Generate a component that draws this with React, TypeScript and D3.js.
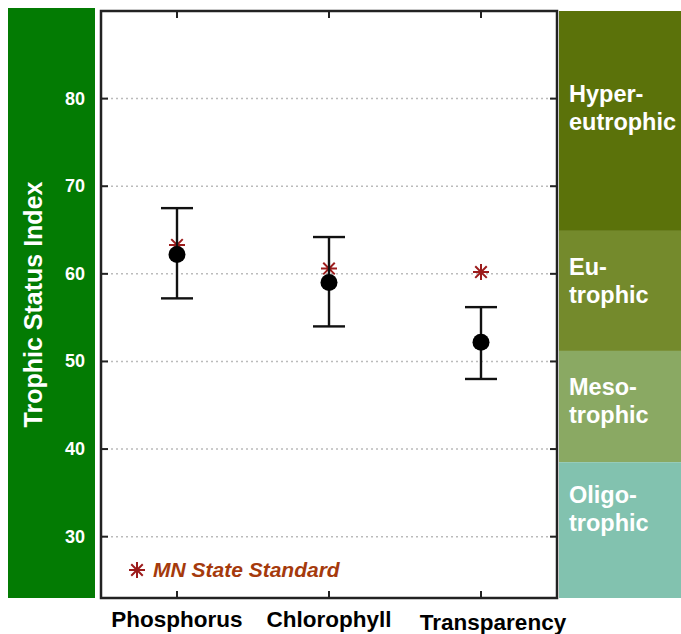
import React from 'react';
import { scaleLinear, scalePoint } from 'd3';

// chart values
const categories = ['Phosphorus', 'Chlorophyll', 'Transparency'];
const means = [62.2, 59.0, 52.2];
const lowers = [57.2, 54.0, 48.0];
const uppers = [67.5, 64.2, 56.2];
const standards = [63.3, 60.6, 60.2];
const yTicks = [30, 40, 50, 60, 70, 80];

// trophic bands on the right side
const bandNames = [['Hyper-', 'eutrophic'], ['Eu-', 'trophic'], ['Meso-', 'trophic'], ['Oligo-', 'trophic']];
const bandTops = [90, 64.9, 51.2, 38.5];
const bandBottoms = [64.9, 51.2, 38.5, 23];
const bandLabelAt = [79.6, 59.9, 46.2, 33.8];
const bandColors = ['#5b720a', '#748a2c', '#8aa963', '#82c2af'];

const W = 681;
const H = 634;
const frame = { left: 101, right: 557, top: 11, bottom: 598 };
const font = '"Liberation Sans", Arial, sans-serif';

// asterisk marker (8 arms)
const asterisk = (cx: number, cy: number, r: number) => {
  const d = r * 0.72;
  return `M${cx - r},${cy}H${cx + r}M${cx},${cy - r}V${cy + r}` +
    `M${cx - d},${cy - d}L${cx + d},${cy + d}M${cx - d},${cy + d}L${cx + d},${cy - d}`;
};

const App = () => {
  const y = scaleLinear().domain([23, 90]).range([frame.bottom, frame.top]);
  const x = scalePoint<string>().domain(categories).range([frame.left, frame.right]).padding(0.5);
  const capW = 16;

  return (
    <svg width={W} height={H} style={{ position: 'absolute', left: 0, top: 0 }}>
      <rect width={W} height={H} fill="#fff" />
      {/* left green panel */}
      <rect x={8} y={8} width={87} height={590} fill="#037b03" />
      {yTicks.map(t => (
        <text key={t} x={85} y={y(t) + 6} textAnchor="end" fill="#fff"
          fontFamily={font} fontWeight="bold" fontSize={18}>{t}</text>
      ))}
      <text transform={`translate(42,${(frame.top + frame.bottom) / 2}) rotate(-90)`}
        textAnchor="middle" fill="#fff" fontFamily={font} fontWeight="bold" fontSize={25}>
        Trophic Status Index
      </text>

      {/* right bands */}
      {bandNames.map((name, i) => (
        <g key={i}>
          <rect x={559} y={y(bandTops[i])} width={W - 559}
            height={y(bandBottoms[i]) - y(bandTops[i])} fill={bandColors[i]} />
          {name.map((line, j) => (
            <text key={j} x={569} y={y(bandLabelAt[i]) + j * 28} fill="#fff"
              fontFamily={font} fontWeight="bold" fontSize={23.5}>{line}</text>
          ))}
        </g>
      ))}

      {/* grid */}
      {yTicks.map(t => (
        <g key={t}>
          <line x1={frame.left} x2={frame.right} y1={y(t)} y2={y(t)}
            stroke="#bbb" strokeWidth={1.5} strokeDasharray="2,3" />
          <line x1={frame.left} x2={frame.left + 7} y1={y(t)} y2={y(t)} stroke="#222" strokeWidth={2} />
          <line x1={frame.right - 7} x2={frame.right} y1={y(t)} y2={y(t)} stroke="#222" strokeWidth={2} />
        </g>
      ))}
      {categories.map(c => (
        <g key={c}>
          <line x1={x(c)} x2={x(c)} y1={frame.top} y2={frame.top + 7} stroke="#222" strokeWidth={2} />
          <line x1={x(c)} x2={x(c)} y1={frame.bottom - 7} y2={frame.bottom} stroke="#222" strokeWidth={2} />
          <text x={x(c)! + (c === 'Transparency' ? 12 : 0)} y={c === 'Transparency' ? 630 : 627}
            textAnchor="middle" fill="#000" fontFamily={font} fontWeight="bold" fontSize={22.5}>{c}</text>
        </g>
      ))}

      {/* standards (behind means) */}
      {categories.map((c, i) => (
        <path key={c} d={asterisk(x(c)!, y(standards[i]), 8)} stroke="#9c1c1c" strokeWidth={2} fill="none" />
      ))}

      {/* error bars and means */}
      {categories.map((c, i) => {
        const cx = x(c)!;
        return (
          <g key={c} stroke="#111" strokeWidth={2.4}>
            <line x1={cx} x2={cx} y1={y(uppers[i])} y2={y(lowers[i])} />
            <line x1={cx - capW} x2={cx + capW} y1={y(uppers[i])} y2={y(uppers[i])} />
            <line x1={cx - capW} x2={cx + capW} y1={y(lowers[i])} y2={y(lowers[i])} />
            <circle cx={cx} cy={y(means[i])} r={8.5} fill="#000" stroke="none" />
          </g>
        );
      })}

      {/* legend */}
      <path d={asterisk(137, 570, 8)} stroke="#9c1c1c" strokeWidth={2} fill="none" />
      <text x={153} y={577} fill="#a53a0c" fontFamily={font} fontWeight="bold" fontStyle="italic" fontSize={21}>
        MN State Standard
      </text>

      {/* frame */}
      <rect x={frame.left} y={frame.top} width={frame.right - frame.left} height={frame.bottom - frame.top}
        fill="none" stroke="#222" strokeWidth={2.5} />
    </svg>
  );
};

export default App;
